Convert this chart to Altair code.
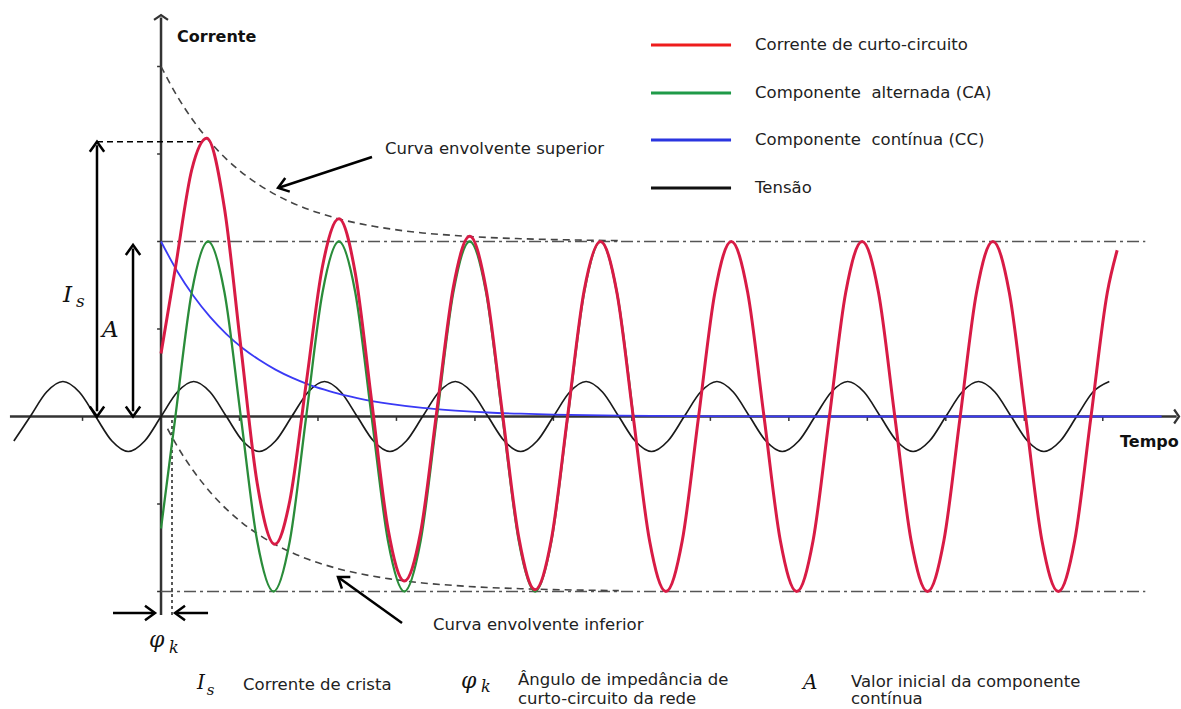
import altair as alt
import pandas as pd

# Time in ms (50 Hz -> 20 ms period); current in per-unit of the AC peak.
# Short-circuit current (red)
red_t = [0, 2.2, 4.7, 7.0, 9.7, 12.2, 14.7, 17.4, 19.7, 22.2, 24.7, 27.2, 29.7, 32.2,
         34.7, 37.2, 39.7, 42.2, 44.7, 47.2, 49.7, 52.2, 54.7, 57.2, 59.7, 62.2, 64.7,
         67.2, 69.7, 72.2, 74.7, 77.2, 79.7, 82.2, 84.7, 87.2, 89.7, 92.2, 94.7, 97.2,
         99.7, 102.2, 104.7, 107.2, 109.7, 112.2, 114.7, 117.2, 119.7, 122.2, 124.7,
         127.2, 129.7, 132.2, 134.7, 137.2, 139.7, 142.2, 144.7, 146.2]
red_i = [0.36, 0.85, 1.41, 1.59, 1.19, 0.40, -0.38, -0.73, -0.48, 0.19, 0.86, 1.13, 0.82, 0.09,
         -0.64, -0.94, -0.66, 0.04, 0.74, 1.03, 0.73, 0.02, -0.69, -0.99, -0.70, 0.01, 0.72,
         1.0, 0.71, 0, -0.71, -1, -0.71, 0, 0.71, 1, 0.71, 0, -0.71, -1,
         -0.71, 0, 0.71, 1, 0.71, 0, -0.71, -1, -0.71, 0, 0.71,
         1, 0.71, 0, -0.71, -1, -0.71, 0, 0.71, 0.95]

# AC component (green)
green_t = [0, 2.2, 4.7, 7.2, 9.7, 12.2, 14.7, 17.2, 19.7, 22.2, 24.7, 27.2, 29.7, 32.2, 34.7,
           37.2, 39.7, 42.2, 44.7, 47.2, 49.7, 52.2, 54.7, 57.2, 59.7, 62.2, 64.7, 67.2, 69.7, 72.2]
green_i = [-0.64, 0, 0.71, 1, 0.71, 0, -0.71, -1, -0.71, 0, 0.71, 1, 0.71, 0, -0.71,
           -1, -0.71, 0, 0.71, 1, 0.71, 0, -0.71, -1, -0.71, 0, 0.71, 1, 0.71, 0]

# DC component (blue)
blue_t = [0, 2.5, 5, 7.5, 10, 12.5, 15, 17.5, 20, 22.5, 25, 27.5, 30, 32.5, 35, 40, 45, 50,
          55, 60, 70, 80, 100, 153]
blue_i = [1, 0.829, 0.687, 0.569, 0.471, 0.390, 0.324, 0.268, 0.222, 0.184, 0.153, 0.126,
          0.105, 0.087, 0.072, 0.049, 0.034, 0.023, 0.016, 0.011, 0.005, 0.002, 0, 0]

# Voltage (black)
volt_t = [-22.5, -20, -17.5, -15, -12.5, -10, -7.5, -5,
          -2.5, 0, 2.5, 5, 7.5, 10, 12.5, 15,
          17.5, 20, 22.5, 25, 27.5, 30, 32.5, 35,
          37.5, 40, 42.5, 45, 47.5, 50, 52.5, 55,
          57.5, 60, 62.5, 65, 67.5, 70, 72.5, 75,
          77.5, 80, 82.5, 85, 87.5, 90, 92.5, 95,
          97.5, 100, 102.5, 105, 107.5, 110, 112.5, 115,
          117.5, 120, 122.5, 125, 127.5, 130, 132.5, 135,
          137.5, 140, 142.5, 145]
volt_v = [-0.14, 0, 0.14, 0.2, 0.14, 0, -0.14, -0.2,
          -0.14, 0, 0.14, 0.2, 0.14, 0, -0.14, -0.2,
          -0.14, 0, 0.14, 0.2, 0.14, 0, -0.14, -0.2,
          -0.14, 0, 0.14, 0.2, 0.14, 0, -0.14, -0.2,
          -0.14, 0, 0.14, 0.2, 0.14, 0, -0.14, -0.2,
          -0.14, 0, 0.14, 0.2, 0.14, 0, -0.14, -0.2,
          -0.14, 0, 0.14, 0.2, 0.14, 0, -0.14, -0.2,
          -0.14, 0, 0.14, 0.2, 0.14, 0, -0.14, -0.2,
          -0.14, 0, 0.14, 0.2]

# Envelope curves (dashed)
env_up_t = [0, 2.5, 5, 7.5, 10, 12.5, 15, 17.5, 20, 22.5, 25, 27.5, 30, 32.5, 35, 40, 45,
            50, 55, 60, 70]
env_up_i = [2, 1.829, 1.687, 1.569, 1.471, 1.390, 1.324, 1.268, 1.222, 1.184, 1.153, 1.126,
            1.105, 1.087, 1.072, 1.049, 1.034, 1.023, 1.016, 1.011, 1.005]
env_lo_t = [1.0, 2.5, 5, 7.5, 10, 12.5, 15, 17.5, 20, 22.5, 25, 27.5, 30, 32.5, 35, 40, 45,
            50, 55, 60, 70]
env_lo_i = [-0.07, -0.171, -0.313, -0.431, -0.529, -0.610, -0.676, -0.732, -0.778, -0.816,
            -0.847, -0.874, -0.895, -0.913, -0.928, -0.951, -0.966, -0.977, -0.984, -0.989,
            -0.995]

legend_labels = ["Corrente de curto-circuito", "Componente\u00a0 alternada (CA)",
                 "Componente\u00a0 contínua (CC)", "Tensão"]
legend_colors = ["#ee1c1c", "#1f9a48", "#2a35e0", "#111111"]

peak_current = 1.57   # I_s
dc_initial = 0.98     # A
phi_k = 1.68          # ms

# ---------------- scales ----------------
X0, X1 = -24.62, 155.96
Y0, Y1 = -1.6714, 2.38
xs = alt.Scale(domain=[X0, X1], nice=False, zero=False)
ys = alt.Scale(domain=[Y0, Y1], nice=False, zero=False)
XE = alt.X("t:Q", scale=xs, axis=None)
YE = alt.Y("v:Q", scale=ys, axis=None)


def curve(t, v, **mk):
    df = pd.DataFrame({"t": t, "v": v})
    return alt.Chart(df).mark_line(interpolate="monotone", **mk).encode(x=XE, y=YE)


def rules(rows, **mk):
    df = pd.DataFrame(rows, columns=["t", "v", "t2", "v2"])
    return alt.Chart(df).mark_rule(**mk).encode(x=XE, y=YE, x2="t2:Q", y2="v2:Q")


CHEV = "M-0.9,1.25L0,0L0.9,1.25"
FLAT = "M-1,0.7L0,0L1,0.7"


def heads(rows, shape=CHEV, size=256, sw=2.5, color="black"):
    df = pd.DataFrame(rows, columns=["t", "v", "a"])
    return alt.Chart(df).mark_point(shape=shape, filled=False, size=size, strokeWidth=sw,
                                    color=color, opacity=1).encode(
        x=XE, y=YE, angle=alt.Angle("a:Q", scale=None))


def texts(rows, **mk):
    df = pd.DataFrame(rows, columns=["label", "t", "v"])
    return alt.Chart(df).mark_text(**mk).encode(x=XE, y=YE, text="label:N")


layers = []

# axes
layers.append(rules([[-23.1, 0, 155.3, 0]], color="#333333", strokeWidth=2.5))
layers.append(rules([[0, -1.134, 0, 2.28]], color="#333333", strokeWidth=2.5))
layers.append(heads([[155.66, 0, 90]], shape=FLAT, size=196, sw=2.2, color="#333333"))
layers.append(heads([[0, 2.294, 0]], shape=FLAT, size=196, sw=2.2, color="#333333"))
# ticks
ytick = [[-0.6, y, 0, y] for y in [-1, -0.5, 0.5, 1, 1.5, 2]]
xtick = [[x, 0, x, -0.025] for x in [-12, 12, 24, 36, 48, 60, 72, 84, 96, 108, 120, 132, 144]]
layers.append(rules(ytick + xtick, color="#333333", strokeWidth=1.5))

# dash-dot steady-state limits
layers.append(rules([[0, 1, 150.5, 1], [0, -1, 150.5, -1]], color="#555555", strokeWidth=1.5,
                    strokeDash=[12, 4, 3, 4]))
# envelopes
layers.append(curve(env_up_t, env_up_i, color="#444444", strokeWidth=1.6, strokeDash=[7, 5]))
layers.append(curve(env_lo_t, env_lo_i, color="#444444", strokeWidth=1.6, strokeDash=[7, 5]))

# helper dashed lines
layers.append(rules([[-9.79, peak_current, 7.0, peak_current]], color="black", strokeWidth=1.3,
                    strokeDash=[6, 4]))
layers.append(rules([[phi_k, -0.02, phi_k, -1.134]], color="black", strokeWidth=1.3,
                    strokeDash=[3, 3]))

# series
layers.append(curve(volt_t, volt_v, color="#1a1a1a", strokeWidth=1.7))
layers.append(curve(blue_t, blue_i, color="#3a3af5", strokeWidth=1.8))
layers.append(curve(green_t, green_i, color="#2a8c3a", strokeWidth=2.3))
layers.append(curve(red_t, red_i, color="#d81b45", strokeWidth=3))

# arrows
layers.append(rules([[-9.79, 0.03, -9.79, peak_current - 0.02],
                     [-4.28, 0.03, -4.28, dc_initial - 0.02],
                     [-7.34, -1.123, -1.0, -1.123],
                     [7.19, -1.123, 2.3, -1.123],
                     [32.26, 1.483, 18.0, 1.307],
                     [36.85, -1.18, 27.15, -0.92]], color="black", strokeWidth=2.5))
layers.append(heads([[-9.79, peak_current, 0], [-9.79, 0, 180],
                     [-4.28, dc_initial, 0], [-4.28, 0, 180],
                     [-0.92, -1.123, 90], [2.14, -1.123, 270],
                     [17.89, 1.306, 251.7], [27.06, -0.917, 305.7]]))

# legend
for lab, col, v in zip(legend_labels, legend_colors, [2.123, 1.849, 1.580, 1.306]):
    layers.append(rules([[74.92, v, 87.16, v]], color=col, strokeWidth=3))
layers.append(texts([[lab, 90.83, v] for lab, v in zip(legend_labels, [2.123, 1.849, 1.580, 1.306])],
                    font="DejaVu Sans", fontSize=16.5, color="#222222", align="left",
                    baseline="middle"))

# annotations
layers.append(texts([["Curva envolvente superior", 34.25, 1.529],
                     ["Curva envolvente inferior", 41.59, -1.191],
                     ["Corrente de crista", 12.54, -1.534],
                     ["Ângulo de impedância de", 54.59, -1.506],
                     ["curto-circuito da rede", 54.59, -1.617],
                     ["Valor inicial da componente", 105.5, -1.518],
                     ["contínua", 105.5, -1.617]],
                    font="DejaVu Sans", fontSize=16.5, color="#222222", align="left",
                    baseline="middle"))
layers.append(texts([["Corrente", 2.45, 2.169], ["Tempo", 146.64, -0.146]],
                    font="DejaVu Sans", fontSize=16, fontWeight="bold", color="#111111",
                    align="left", baseline="middle"))

# math symbols
MATH = dict(font="DejaVu Serif", fontStyle="italic", color="#111111", align="left",
            baseline="alphabetic")
layers.append(texts([["I", -14.98, 0.654], ["A", -9.02, 0.454]], fontSize=23, **MATH))
layers.append(texts([["s", -13.0, 0.626]], fontSize=17, **MATH))
layers.append(texts([["I", 5.5, -1.557], ["A", 98.17, -1.557]], fontSize=20, **MATH))
layers.append(texts([["s", 7.0, -1.591]], fontSize=15, **MATH))
layers.append(texts([["φ", -1.83, -1.317], ["φ", 45.87, -1.551]], fontSize=22, **MATH))
layers.append(texts([["k", 1.22, -1.351], ["k", 48.93, -1.574]], fontSize=16, **MATH))

chart = alt.layer(*layers).properties(
    width=1181, height=709, padding=0,
    autosize=alt.AutoSizeParams(type="none"), background="white"
).configure_view(stroke=None)

chart.save("out.html", embed_options={"renderer": "svg", "actions": False})
